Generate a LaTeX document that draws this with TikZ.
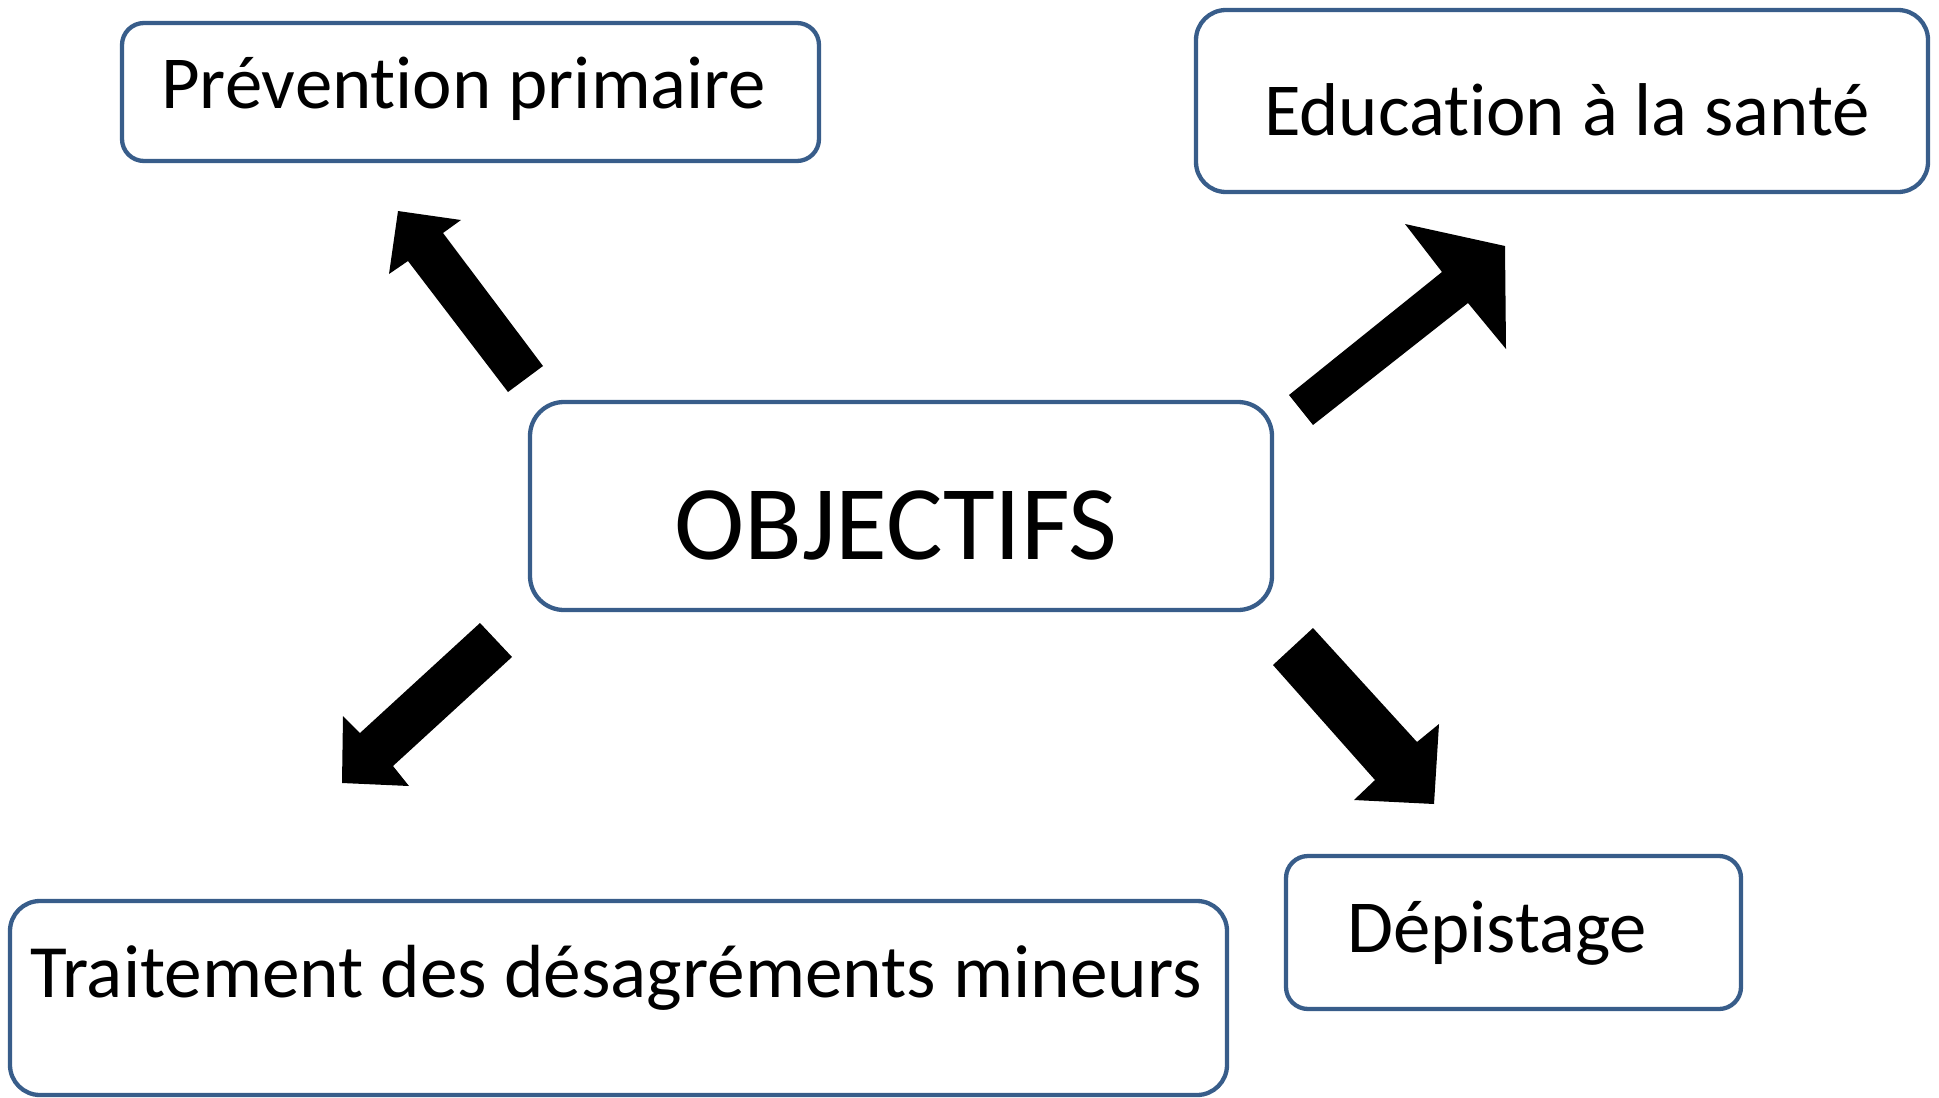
\documentclass[tikz,border=0pt]{standalone}
\usepackage{fontspec}
\setmainfont[Ligatures=NoCommon]{Carlito}
\definecolor{boxblue}{RGB}{56,93,138}
\begin{document}
\begin{tikzpicture}[x=1pt,y=-1pt,
  box/.style={draw=boxblue,line width=4.3pt,fill=white,inner sep=0pt},
  lbl/.style={anchor=base west,inner sep=0pt,font=\fontsize{74.8}{80}\selectfont},
  blockarrow/.style={fill=black,draw=none}]
\useasboundingbox (0,0) rectangle (1939,1098);
% boxes
\node[box,rounded corners=22pt,minimum width=697pt,minimum height=138pt] (prev) at (470.5,92) {};
\node[box,rounded corners=30pt,minimum width=732pt,minimum height=182pt] (edu) at (1562,101) {};
\node[box,rounded corners=34pt,minimum width=742pt,minimum height=208pt] (obj) at (901,506) {};
\node[box,rounded corners=30pt,minimum width=1217pt,minimum height=194pt] (trait) at (618.5,998) {};
\node[box,rounded corners=22pt,minimum width=455pt,minimum height=153pt] (dep) at (1513.5,932.5) {};
% labels
\node[lbl] (tprev) at (161,108) {Prévention primaire};
\node[lbl] (tedu) at (1264,135) {Education à la santé};
\node[lbl,font=\fontsize{106}{112}\selectfont] (tobj) at (674,559) {OBJECTIFS};
\node[lbl,font=\fontsize{75.3}{80}\selectfont] (ttrait) at (30,997) {Traitement des désagréments mineurs};
\node[lbl] (tdep) at (1347,952) {Dépistage};
% block arrows
\fill[blockarrow] (543,366) -- (443,233) -- (461,220) -- (398,211) -- (389,274) -- (408,261) -- (508,392) -- cycle;
\fill[blockarrow] (1289,395) -- (1442,272) -- (1405,224) -- (1505,246) -- (1506,349) -- (1468,303) -- (1313,425) -- cycle;
\fill[blockarrow] (480,623) -- (360,733) -- (343,716) -- (342,783) -- (409,786) -- (393,766) -- (512,657) -- cycle;
\fill[blockarrow] (1313,628) -- (1417,742) -- (1439,724) -- (1434,804) -- (1354,800) -- (1375,780) -- (1273,665) -- cycle;
\end{tikzpicture}
\end{document}
